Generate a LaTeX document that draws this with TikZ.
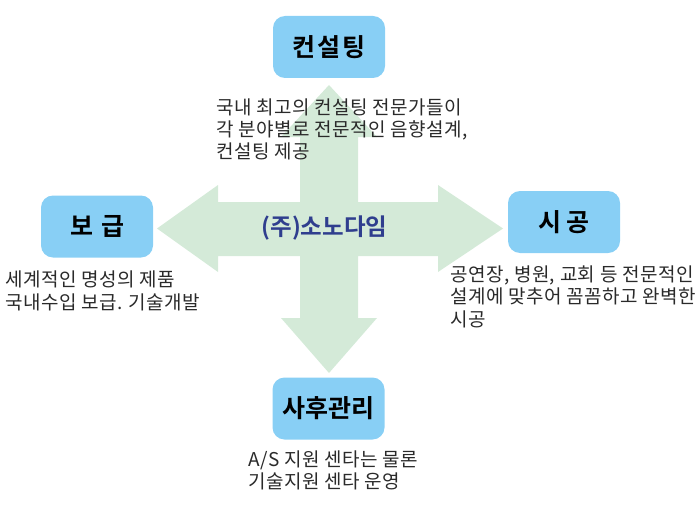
\documentclass[tikz,border=0pt]{standalone}
\usepackage{fontspec}
\newfontfamily\kr[LetterSpace=2.5]{Noto Sans CJK KR}
\newfontfamily\krb{Noto Sans CJK KR Bold}
\definecolor{boxblue}{HTML}{88CFF5}
\definecolor{crossgreen}{HTML}{D4EAD8}
\definecolor{centerblue}{HTML}{2F3E8E}
\definecolor{desc}{HTML}{2A2A2A}
\begin{document}
\begin{tikzpicture}[x=1pt,y=-1pt,
  titlebox/.style={fill=boxblue,rounded corners=12pt,minimum width=112pt,minimum height=62pt,inner sep=0pt,font=\krb\fontsize{25}{28}\selectfont,text=black},
  descline/.style={anchor=base west,inner sep=0pt,font=\kr\fontsize{19}{22}\selectfont,text=desc}]
\useasboundingbox (0,0) rectangle (700,508);
% cross of four arrows
\fill[crossgreen] (329,85) -- (377,137) -- (358,137) -- (358,202) -- (438,202) -- (438,185) -- (503,228.5)
  -- (438,272) -- (438,256) -- (358,256) -- (358,318) -- (377,318) -- (329,373) -- (281,318) -- (300,318)
  -- (300,256) -- (218,256) -- (218,272) -- (157,228.5) -- (218,185) -- (218,202) -- (300,202)
  -- (300,137) -- (281,137) -- cycle;
\node[font=\krb\fontsize{23.5}{26}\selectfont,text=centerblue] (center) at (324.5,228) {(주)소노다임};
% boxes
\node[titlebox] (top) at (329,47) {컨\kern2pt 설\kern2pt 팅};
\node[titlebox] (left) at (97,226.5) {보\hspace{8pt}급};
\node[titlebox] (right) at (564,222) {시 공};
\node[titlebox] (bottom) at (328.5,408.5) {사후관리};
% descriptions
\node[descline] (t1) at (216,114) {국내 최고의 컨설팅 전문가들이};
\node[descline] (t2) at (216,136.5) {각 분야별로 전문적인 음향설계,};
\node[descline] (t3) at (216,158) {컨설팅 제공};
\node[descline] (l1) at (5,286) {세계적인 명성의 제품};
\node[descline] (l2) at (5,309) {국내수입 보급. 기술개발};
\node[descline] (r1) at (450,281) {공연장, 병원, 교회 등 전문적인};
\node[descline] (r2) at (450,303) {설계에 맞추어 꼼꼼하고 완벽한};
\node[descline] (r3) at (450,326) {시공};
\node[descline] (b1) at (248,466) {A/S 지원 센타는 물론};
\node[descline] (b2) at (248,488) {기술지원 센타 운영};
\end{tikzpicture}
\end{document}
